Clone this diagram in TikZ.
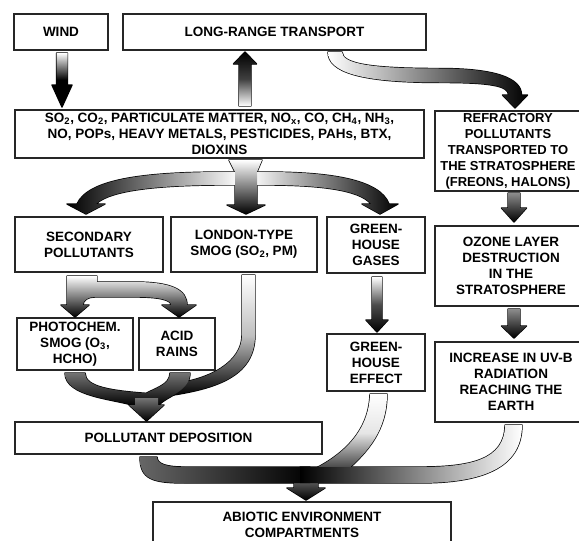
\documentclass[tikz,border=0pt]{standalone}
\usepackage{fontspec}
\setmainfont{Liberation Sans}

\newcommand{\frecce}{%
  % Vento
  \path[fat, top color=white, bottom color=black, middle color=black]
    (56.5,53) -- (67.5,53) -- (67.5,85) -- (72,85) -- (62,107) -- (52,85) -- (56.5,85) -- cycle;
  % Trasporto
  \path[fat, top color=black, bottom color=white, middle color=black!75]
    (239,106) -- (251,106) -- (251,64) -- (256.5,64) -- (245,52) -- (233.5,64) -- (239,64) -- cycle;
  \path[fat, left color=white, right color=black]
    (328,52) .. controls (328,72) and (360,82.5) .. (440,82.5)
    .. controls (492,82.5) and (508.5,86) .. (508.5,95) -- (502.5,95) -- (515,108)
    -- (527.5,95) -- (521.5,95) .. controls (521.5,78) and (495,68.5) .. (440,68.5)
    .. controls (372,68.5) and (342,64) .. (342,52) -- cycle;
  % Ramificazione
  \path[fat, left color=black, right color=white]
    (240,172) -- (225,172) .. controls (140,172) and (88,180) .. (77,204) -- (67,204)
    -- (86,214) -- (105,204) -- (96,204) .. controls (110,190) and (160,185) .. (225,185)
    -- (240,185) -- cycle;
  \path[fat, left color=white, right color=black]
    (250,172) -- (266,172) .. controls (332,172) and (380,180) .. (389,204) -- (398,204)
    -- (380,214) -- (362,204) -- (371,204) .. controls (360,190) and (320,185) .. (266,185)
    -- (250,185) -- cycle;
  \path[fat, lightdown]
    (229,160) -- (262,160) -- (257,172) -- (257,205) -- (265,205) -- (246,214)
    -- (227,205) -- (235,205) -- (235,172) -- cycle;
  % Inquinanti secondari
  \path[fat, lightdown]
    (67,276) -- (97,276) -- (97,282) -- (135,282) .. controls (172,282) and (187,290) .. (187,305)
    -- (196,305) -- (179,317) -- (162,305) -- (171,305) .. controls (171,300) and (160,297) .. (135,297)
    -- (95,297) .. controls (88,297) and (83,300) .. (83,305) -- (89,305) -- (75,317) -- (61,305)
    -- (67,305) -- cycle;
  % Deposizione
  \path[fat, top color=white, bottom color=black, middle color=black!25]
    (242,275) -- (255,275) -- (255,335) .. controls (255,377) and (215,389) .. (167,396)
    -- (170,384) .. controls (210,380) and (242,362) .. (242,335) -- cycle;
  \path[fat, darkdown]
    (65,373) .. controls (65,397) and (115,399) .. (135,406) -- (150,406) -- (156,394)
    .. controls (110,391) and (85,387) .. (85,373) -- cycle;
  \path[fat, darkdown]
    (170,373) .. controls (170,385) and (155,388) .. (145,394) -- (140,406) -- (158,406)
    .. controls (166,396) and (190,392) .. (190,373) -- cycle;
  \path[fat, darkdown]
    (135,398) -- (158,398) -- (158,405) -- (164,405) -- (146.5,421) -- (129,405) -- (135,405) -- cycle;
  % Effetto serra e ozono
  \path[fat, top color=white, bottom color=black, middle color=black!70]
    (372,277) -- (382,277) -- (382,320) -- (388,320) -- (377,332) -- (366,320) -- (372,320) -- cycle;
  \path[fat, greydown]
    (508,193) -- (520,193) -- (520,208) -- (526.5,208) -- (514,222) -- (501.5,208) -- (508,208) -- cycle;
  \path[fat, greydown]
    (508,309) -- (520,309) -- (520,326) -- (526.5,326) -- (514,338) -- (501.5,326) -- (508,326) -- cycle;
  % Comparti ambientali
  \path[fat, darkdown]
    (294,476) -- (318,476) -- (318,488) -- (325,488) -- (306,500) -- (287,488) -- (294,488) -- cycle;
  \path[fat, top color=white, bottom color=black!80, middle color=black!10]
    (370,394) .. controls (369,430) and (345,455) .. (308,472) -- (345,472)
    .. controls (368,452) and (387,430) .. (387,394) -- cycle;
  \path[fat, left color=black!60, right color=black]
    (140,457) .. controls (140,479) and (152,483) .. (185,483) -- (310,483) -- (310,467)
    -- (185,467) .. controls (166,467) and (157,464) .. (157,457) -- cycle;
  \path[fat, left color=black, right color=white]
    (522,425) .. controls (522,468) and (482,483) .. (420,483) -- (300,483) -- (300,467)
    -- (420,467) .. controls (470,467) and (505,460) .. (505,425) -- cycle;
}

\begin{document}
\begin{tikzpicture}[x=1pt, y=-1pt,
    box/.style={draw=black!85, line width=1.3pt, inner sep=0pt, align=center,
      font=\fontsize{13.5}{16}\selectfont\bfseries},
    fat/.style={draw=black, line width=1.4pt, line join=round},
    lightdown/.style={top color=white, bottom color=black},
    darkdown/.style={top color=black!55, bottom color=black},
    greydown/.style={top color=black!45, bottom color=black}]
  \useasboundingbox (0,0) rectangle (579,541);
  % Riquadri
  \node[box, minimum width=94pt, minimum height=36pt] (wind) at (61,32) {WIND};
  \node[box, minimum width=303pt, minimum height=36pt] (lrt) at (274.5,32) {LONG-RANGE TRANSPORT};
  \node[box, minimum width=409pt, minimum height=48pt] (poll) at (219.5,134)
    {SO\textsubscript{2}, CO\textsubscript{2}, PARTICULATE MATTER, NO\textsubscript{x}, CO, CH\textsubscript{4}, NH\textsubscript{3},\\NO, POPs, HEAVY METALS, PESTICIDES, PAHs, BTX,\\DIOXINS};
  \node[box, minimum width=146pt, minimum height=80pt,
    font=\fontsize{13}{16}\selectfont\bfseries] (refr) at (508,151)
    {REFRACTORY\\POLLUTANTS\\TRANSPORTED TO\\THE STRATOSPHERE\\(FREONS, HALONS)};
  \node[box, minimum width=148pt, minimum height=55pt] (sec) at (89,244.5) {SECONDARY\\POLLUTANTS};
  \node[box, minimum width=146pt, minimum height=55pt] (lon) at (244,244.5) {LONDON-TYPE\\SMOG (SO\textsubscript{2}, PM)};
  \node[box, minimum width=98pt, minimum height=56pt] (ghg) at (376,245) {GREEN-\\HOUSE\\GASES};
  \node[box, minimum width=152pt, minimum height=80pt] (ozone) at (511,266)
    {OZONE LAYER\\DESTRUCTION\\IN THE\\STRATOSPHERE};
  \node[box, minimum width=116pt, minimum height=52pt] (photo) at (75,344) {PHOTOCHEM.\\SMOG (O\textsubscript{3},\\HCHO)};
  \node[box, minimum width=76pt, minimum height=52pt] (acid) at (177,344) {ACID\\RAINS};
  \node[box, minimum width=98pt, minimum height=57pt] (ghe) at (376,362.5) {GREEN-\\HOUSE\\EFFECT};
  \node[box, minimum width=152pt, minimum height=80pt] (uvb) at (511,382)
    {INCREASE IN UV-B\\RADIATION\\REACHING THE\\EARTH};
  \node[box, minimum width=307pt, minimum height=32pt] (dep) at (168.5,438) {POLLUTANT DEPOSITION};
  \node[box, minimum width=298pt, minimum height=46pt] (abio) at (302,525) {ABIOTIC ENVIRONMENT\\COMPARTMENTS};
  % Frecce: contorni, poi riempimenti
  \frecce
  \tikzset{fat/.style={draw=none}}
  \frecce
\end{tikzpicture}
\end{document}
